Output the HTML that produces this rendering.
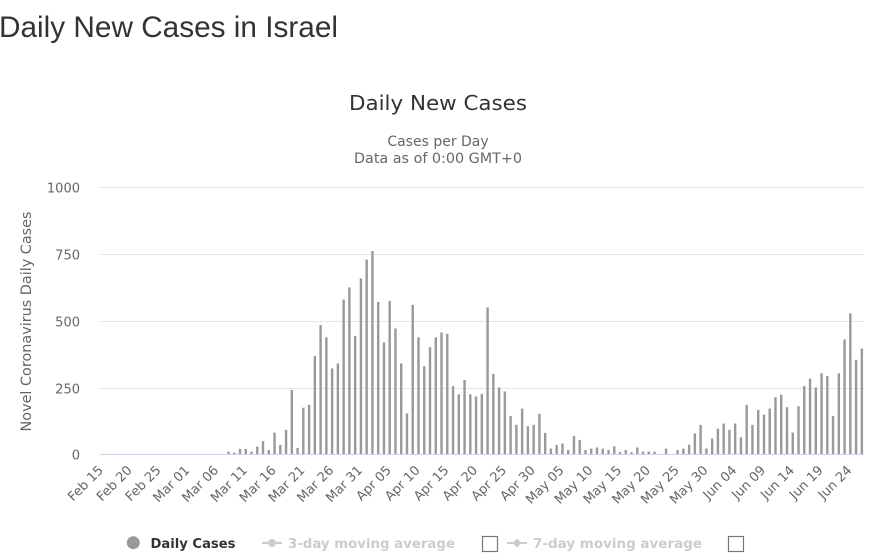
<!DOCTYPE html>
<html><head><meta charset="utf-8"><style>
html,body{margin:0;padding:0;background:#fff;width:872px;height:558px;overflow:hidden}
svg{display:block}
</style></head><body>
<svg width="872" height="558" viewBox="0 0 872 558" xmlns="http://www.w3.org/2000/svg">
<rect width="872" height="558" fill="#fff"/>
<text x="-1" y="37" font-family="Liberation Sans, Arial, sans-serif" font-size="30" fill="#333" textLength="339" lengthAdjust="spacingAndGlyphs">Daily New Cases in Israel</text>

<g font-family="DejaVu Sans, Verdana, sans-serif" text-anchor="middle">
<text x="438" y="110" font-size="20" fill="#333" textLength="178" lengthAdjust="spacingAndGlyphs">Daily New Cases</text>
<text x="438" y="146" font-size="14" fill="#666">Cases per Day</text>
<text x="438" y="163" font-size="14" fill="#666" textLength="168" lengthAdjust="spacingAndGlyphs">Data as of 0:00 GMT+0</text>
</g>

<g stroke="#e6e6e6" stroke-width="1">
<line x1="100" y1="187.5" x2="864" y2="187.5"/>
<line x1="100" y1="254.5" x2="864" y2="254.5"/>
<line x1="100" y1="321.5" x2="864" y2="321.5"/>
<line x1="100" y1="388.5" x2="864" y2="388.5"/>
</g>

<g font-family="DejaVu Sans, Verdana, sans-serif" font-size="13" fill="#666" text-anchor="end">
<text x="80" y="192.5">1000</text>
<text x="80" y="259.5">750</text>
<text x="80" y="326.5">500</text>
<text x="80" y="393.5">250</text>
<text x="80" y="459.5">0</text>
</g>
<text transform="translate(31,321.5) rotate(-90)" font-family="DejaVu Sans, Verdana, sans-serif" font-size="14" fill="#666" text-anchor="middle" textLength="220" lengthAdjust="spacingAndGlyphs">Novel Coronavirus Daily Cases</text>

<path fill="#999" transform="matrix(1,0,0,-0.267,0,454.5)" d="M100.6,0 m126.676,0
v11h2.4v-11zm5.758,0
v7h2.4v-7zm5.758,0
v21h2.4v-21zm5.758,0
v21h2.4v-21zm5.758,0
v11h2.4v-11zm5.758,0
v30h2.4v-30zm5.758,0
v50h2.4v-50zm5.758,0
v17h2.4v-17zm5.758,0
v82h2.4v-82zm5.758,0
v36h2.4v-36zm5.758,0
v92h2.4v-92zm5.758,0
v242h2.4v-242zm5.758,0
v25h2.4v-25zm5.758,0
v175h2.4v-175zm5.758,0
v186h2.4v-186zm5.758,0
v369h2.4v-369zm5.758,0
v485h2.4v-485zm5.758,0
v439h2.4v-439zm5.758,0
v322h2.4v-322zm5.758,0
v341h2.4v-341zm5.758,0
v580h2.4v-580zm5.758,0
v626h2.4v-626zm5.758,0
v444h2.4v-444zm5.758,0
v659h2.4v-659zm5.758,0
v730h2.4v-730zm5.758,0
v762h2.4v-762zm5.758,0
v571h2.4v-571zm5.758,0
v420h2.4v-420zm5.758,0
v575h2.4v-575zm5.758,0
v472h2.4v-472zm5.758,0
v341h2.4v-341zm5.758,0
v154h2.4v-154zm5.758,0
v561h2.4v-561zm5.758,0
v439h2.4v-439zm5.758,0
v331h2.4v-331zm5.758,0
v402h2.4v-402zm5.758,0
v439h2.4v-439zm5.758,0
v457h2.4v-457zm5.758,0
v452h2.4v-452zm5.758,0
v256h2.4v-256zm5.758,0
v225h2.4v-225zm5.758,0
v279h2.4v-279zm5.758,0
v225h2.4v-225zm5.758,0
v217h2.4v-217zm5.758,0
v227h2.4v-227zm5.758,0
v551h2.4v-551zm5.758,0
v302h2.4v-302zm5.758,0
v251h2.4v-251zm5.758,0
v236h2.4v-236zm5.758,0
v144h2.4v-144zm5.758,0
v111h2.4v-111zm5.758,0
v172h2.4v-172zm5.758,0
v106h2.4v-106zm5.758,0
v111h2.4v-111zm5.758,0
v152h2.4v-152zm5.758,0
v81h2.4v-81zm5.758,0
v22h2.4v-22zm5.758,0
v36h2.4v-36zm5.758,0
v41h2.4v-41zm5.758,0
v17h2.4v-17zm5.758,0
v69h2.4v-69zm5.758,0
v55h2.4v-55zm5.758,0
v17h2.4v-17zm5.758,0
v22h2.4v-22zm5.758,0
v26h2.4v-26zm5.758,0
v22h2.4v-22zm5.758,0
v17h2.4v-17zm5.758,0
v31h2.4v-31zm5.758,0
v9h2.4v-9zm5.758,0
v17h2.4v-17zm5.758,0
v9h2.4v-9zm5.758,0
v26h2.4v-26zm5.758,0
v11h2.4v-11zm5.758,0
v11h2.4v-11zm5.758,0
v11h2.4v-11zm5.758,0
m5.758,0
v22h2.4v-22zm5.758,0
m5.758,0
v17h2.4v-17zm5.758,0
v22h2.4v-22zm5.758,0
v37h2.4v-37zm5.758,0
v79h2.4v-79zm5.758,0
v111h2.4v-111zm5.758,0
v22h2.4v-22zm5.758,0
v60h2.4v-60zm5.758,0
v97h2.4v-97zm5.758,0
v116h2.4v-116zm5.758,0
v92h2.4v-92zm5.758,0
v116h2.4v-116zm5.758,0
v64h2.4v-64zm5.758,0
v186h2.4v-186zm5.758,0
v111h2.4v-111zm5.758,0
v167h2.4v-167zm5.758,0
v149h2.4v-149zm5.758,0
v172h2.4v-172zm5.758,0
v215h2.4v-215zm5.758,0
v224h2.4v-224zm5.758,0
v177h2.4v-177zm5.758,0
v82h2.4v-82zm5.758,0
v181h2.4v-181zm5.758,0
v256h2.4v-256zm5.758,0
v284h2.4v-284zm5.758,0
v251h2.4v-251zm5.758,0
v304h2.4v-304zm5.758,0
v294h2.4v-294zm5.758,0
v144h2.4v-144zm5.758,0
v304h2.4v-304zm5.758,0
v431h2.4v-431zm5.758,0
v529h2.4v-529zm5.758,0
v355h2.4v-355zm5.758,0
v397h2.4v-397z"/>

<line x1="100" y1="454.5" x2="864" y2="454.5" stroke="#ccd6eb" stroke-width="1"/>

<g font-family="DejaVu Sans, Verdana, sans-serif" font-size="13" fill="#666" text-anchor="end">
<text transform="translate(104,471) rotate(-45)">Feb 15</text>
<text transform="translate(132.79,471) rotate(-45)">Feb 20</text>
<text transform="translate(161.58,471) rotate(-45)">Feb 25</text>
<text transform="translate(190.37,471) rotate(-45)">Mar 01</text>
<text transform="translate(219.16,471) rotate(-45)">Mar 06</text>
<text transform="translate(247.95,471) rotate(-45)">Mar 11</text>
<text transform="translate(276.74,471) rotate(-45)">Mar 16</text>
<text transform="translate(305.53,471) rotate(-45)">Mar 21</text>
<text transform="translate(334.32,471) rotate(-45)">Mar 26</text>
<text transform="translate(363.11,471) rotate(-45)">Mar 31</text>
<text transform="translate(391.9,471) rotate(-45)">Apr 05</text>
<text transform="translate(420.69,471) rotate(-45)">Apr 10</text>
<text transform="translate(449.48,471) rotate(-45)">Apr 15</text>
<text transform="translate(478.27,471) rotate(-45)">Apr 20</text>
<text transform="translate(507.06,471) rotate(-45)">Apr 25</text>
<text transform="translate(535.85,471) rotate(-45)">Apr 30</text>
<text transform="translate(564.64,471) rotate(-45)">May 05</text>
<text transform="translate(593.43,471) rotate(-45)">May 10</text>
<text transform="translate(622.22,471) rotate(-45)">May 15</text>
<text transform="translate(651.01,471) rotate(-45)">May 20</text>
<text transform="translate(679.8,471) rotate(-45)">May 25</text>
<text transform="translate(708.59,471) rotate(-45)">May 30</text>
<text transform="translate(737.38,471) rotate(-45)">Jun 04</text>
<text transform="translate(766.17,471) rotate(-45)">Jun 09</text>
<text transform="translate(794.96,471) rotate(-45)">Jun 14</text>
<text transform="translate(823.75,471) rotate(-45)">Jun 19</text>
<text transform="translate(852.54,471) rotate(-45)">Jun 24</text>
</g>

<g font-family="DejaVu Sans, Verdana, sans-serif" font-size="13.5" font-weight="bold">
<circle cx="133.3" cy="542.7" r="6.5" fill="#999"/>
<text x="150.5" y="548" fill="#333" textLength="85" lengthAdjust="spacingAndGlyphs">Daily Cases</text>
<line x1="262" y1="543" x2="282" y2="543" stroke="#ccc" stroke-width="2"/>
<circle cx="272" cy="543" r="4" fill="#ccc"/>
<text x="288" y="548" fill="#ccc" textLength="167" lengthAdjust="spacingAndGlyphs">3-day moving average</text>
<rect x="482.5" y="536.5" width="15" height="15" fill="#fff" stroke="#777" stroke-width="1.2"/>
<line x1="507" y1="543" x2="527" y2="543" stroke="#ccc" stroke-width="2"/>
<path d="M517,538.5 L521.5,543 L517,547.5 L512.5,543 Z" fill="#ccc"/>
<text x="533" y="548" fill="#ccc" textLength="169" lengthAdjust="spacingAndGlyphs">7-day moving average</text>
<rect x="728.5" y="536.5" width="15" height="15" fill="#fff" stroke="#777" stroke-width="1.2"/>
</g>
</svg>
</body></html>
